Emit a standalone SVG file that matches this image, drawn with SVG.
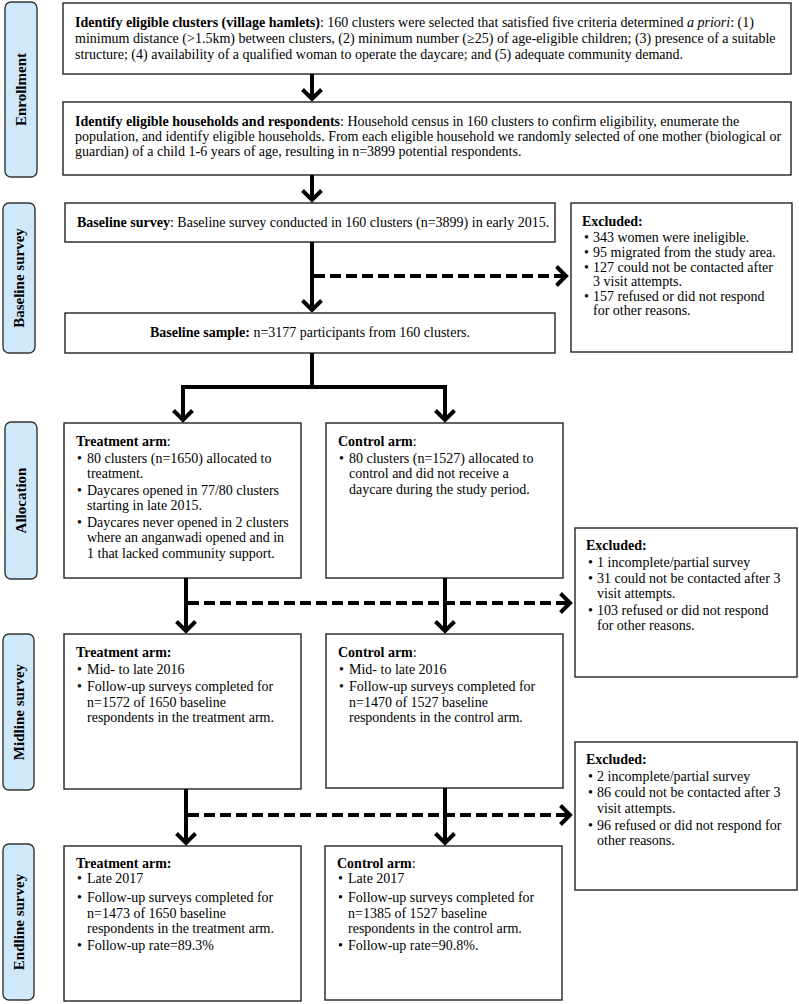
<svg xmlns="http://www.w3.org/2000/svg" width="799" height="1004" viewBox="0 0 799 1004">
<style>
text { font-family: "Liberation Serif", "Times New Roman", serif; font-size: 14px; fill: #000; }
.b { font-weight: bold; }
.i { font-style: italic; }
.box { fill: #fff; stroke: #222; stroke-width: 1.4; }
.lbl { fill: #cfe8fa; stroke: #333; stroke-width: 1.4; }
.lt { font-weight: bold; font-size: 15px; text-anchor: middle; dominant-baseline: central; }
.ln { fill: none; stroke: #000; stroke-width: 4; stroke-linejoin: miter; }
.dash { stroke-dasharray: 11 5; }
</style>
<defs>
<marker id="ah" markerUnits="userSpaceOnUse" viewBox="-14 -14 20 28" markerWidth="20" markerHeight="28" refX="0" refY="0" orient="auto">
<path d="M-9.5,-9.5 L0,0 L-9.5,9.5" fill="none" stroke="#000" stroke-width="4" stroke-linejoin="miter"/>
</marker>
</defs>

<g id="label-enrollment">
<rect class="lbl" x="5" y="2" width="32" height="175" rx="6"/>
<text class="lt" transform="translate(21,89.5) rotate(-90)">Enrollment</text>
</g>
<g id="label-baseline">
<rect class="lbl" x="3" y="203" width="32" height="150" rx="6"/>
<text class="lt" transform="translate(19,278) rotate(-90)">Baseline survey</text>
</g>
<g id="label-allocation">
<rect class="lbl" x="5" y="422" width="32" height="157" rx="6"/>
<text class="lt" transform="translate(21,500.5) rotate(-90)">Allocation</text>
</g>
<g id="label-midline">
<rect class="lbl" x="3" y="634" width="31" height="156" rx="6"/>
<text class="lt" transform="translate(18.5,712) rotate(-90)">Midline survey</text>
</g>
<g id="label-endline">
<rect class="lbl" x="3" y="844" width="31" height="156" rx="6"/>
<text class="lt" transform="translate(18.5,922) rotate(-90)">Endline survey</text>
</g>

<g id="clusters">
<rect class="box" x="63" y="3" width="728" height="71"/>
<text x="75" y="27"><tspan class="b">Identify eligible clusters (village hamlets)</tspan>: 160 clusters were selected that satisfied five criteria determined <tspan class="i">a priori</tspan>: (1)</text>
<text x="75" y="43">minimum distance (&gt;1.5km) between clusters, (2) minimum number (≥25) of age-eligible children; (3) presence of a suitable</text>
<text x="75" y="59">structure; (4) availability of a qualified woman to operate the daycare; and (5) adequate community demand.</text>
</g>

<g id="households">
<rect class="box" x="63" y="102" width="728" height="73"/>
<text x="75" y="126"><tspan class="b">Identify eligible households and respondents</tspan>: Household census in 160 clusters to confirm eligibility, enumerate the</text>
<text x="75" y="141">population, and identify eligible households. From each eligible household we randomly selected of one mother (biological or</text>
<text x="75" y="156">guardian) of a child 1-6 years of age, resulting in n=3899 potential respondents.</text>
</g>

<g id="baseline-survey">
<rect class="box" x="65" y="203" width="490" height="39"/>
<text x="77" y="227"><tspan class="b">Baseline survey</tspan>: Baseline survey conducted in 160 clusters (n=3899) in early 2015.</text>
</g>

<g id="excluded-1">
<rect class="box" x="571" y="203" width="221" height="149"/>
<text class="b" x="582" y="226">Excluded:</text>
<text x="584" y="242">•</text><text x="593" y="242">343 women were ineligible.</text>
<text x="584" y="257">•</text><text x="593" y="257">95 migrated from the study area.</text>
<text x="584" y="272">•</text><text x="593" y="272">127 could not be contacted after</text>
<text x="593" y="286">3 visit attempts.</text>
<text x="584" y="301">•</text><text x="593" y="301">157 refused or did not respond</text>
<text x="593" y="315">for other reasons.</text>
</g>

<g id="baseline-sample">
<rect class="box" x="65" y="313" width="490" height="40"/>
<text x="310" y="337" text-anchor="middle"><tspan class="b">Baseline sample:</tspan> n=3177 participants from 160 clusters.</text>
</g>

<g id="alloc-treatment">
<rect class="box" x="64" y="423" width="237" height="155"/>
<text x="76" y="446"><tspan class="b">Treatment arm</tspan>:</text>
<text x="77" y="463">•</text><text x="87" y="463">80 clusters (n=1650) allocated to</text>
<text x="87" y="478">treatment.</text>
<text x="77" y="495">•</text><text x="87" y="495">Daycares opened in 77/80 clusters</text>
<text x="87" y="510">starting in late 2015.</text>
<text x="77" y="527">•</text><text x="87" y="527">Daycares never opened in 2 clusters</text>
<text x="87" y="542">where an anganwadi opened and in</text>
<text x="87" y="558">1 that lacked community support.</text>
</g>

<g id="alloc-control">
<rect class="box" x="326" y="423" width="237" height="155"/>
<text x="338" y="446"><tspan class="b">Control arm</tspan>:</text>
<text x="339" y="463">•</text><text x="349" y="463">80 clusters (n=1527) allocated to</text>
<text x="349" y="478">control and did not receive a</text>
<text x="349" y="494">daycare during the study period.</text>
</g>

<g id="excluded-2">
<rect class="box" x="575" y="528" width="222" height="149"/>
<text class="b" x="586" y="550">Excluded:</text>
<text x="588" y="567">•</text><text x="597" y="567">1 incomplete/partial survey</text>
<text x="588" y="583">•</text><text x="597" y="583">31 could not be contacted after 3</text>
<text x="597" y="598">visit attempts.</text>
<text x="588" y="615">•</text><text x="597" y="615">103 refused or did not respond</text>
<text x="597" y="630">for other reasons.</text>
</g>

<g id="mid-treatment">
<rect class="box" x="64" y="634" width="237" height="155"/>
<text class="b" x="76" y="657">Treatment arm:</text>
<text x="77" y="674">•</text><text x="87" y="674">Mid- to late 2016</text>
<text x="77" y="691">•</text><text x="87" y="691">Follow-up surveys completed for</text>
<text x="87" y="707">n=1572 of 1650 baseline</text>
<text x="87" y="722">respondents in the treatment arm.</text>
</g>

<g id="mid-control">
<rect class="box" x="326" y="634" width="237" height="154"/>
<text x="338" y="657"><tspan class="b">Control arm</tspan>:</text>
<text x="339" y="674">•</text><text x="349" y="674">Mid- to late 2016</text>
<text x="339" y="691">•</text><text x="349" y="691">Follow-up surveys completed for</text>
<text x="349" y="707">n=1470 of 1527 baseline</text>
<text x="349" y="722">respondents in the control arm.</text>
</g>

<g id="excluded-3">
<rect class="box" x="575" y="742" width="222" height="148"/>
<text class="b" x="586" y="764">Excluded:</text>
<text x="588" y="781">•</text><text x="597" y="781">2 incomplete/partial survey</text>
<text x="588" y="797">•</text><text x="597" y="797">86 could not be contacted after 3</text>
<text x="597" y="813">visit attempts.</text>
<text x="588" y="830">•</text><text x="597" y="830">96 refused or did not respond for</text>
<text x="597" y="845">other reasons.</text>
</g>

<g id="end-treatment">
<rect class="box" x="64" y="846" width="237" height="155"/>
<text class="b" x="76" y="868">Treatment arm:</text>
<text x="77" y="883">•</text><text x="87" y="883">Late 2017</text>
<text x="77" y="902">•</text><text x="87" y="902">Follow-up surveys completed for</text>
<text x="87" y="918">n=1473 of 1650 baseline</text>
<text x="87" y="933">respondents in the treatment arm.</text>
<text x="77" y="950">•</text><text x="87" y="950">Follow-up rate=89.3%</text>
</g>

<g id="end-control">
<rect class="box" x="325" y="846" width="237" height="154"/>
<text x="337" y="868"><tspan class="b">Control arm</tspan>:</text>
<text x="338" y="883">•</text><text x="348" y="883">Late 2017</text>
<text x="338" y="902">•</text><text x="348" y="902">Follow-up surveys completed for</text>
<text x="348" y="918">n=1385 of 1527 baseline</text>
<text x="348" y="933">respondents in the control arm.</text>
<text x="338" y="950">•</text><text x="348" y="950">Follow-up rate=90.8%.</text>
</g>

<g id="connectors">
<path class="ln" d="M312,74 V99" marker-end="url(#ah)"/>
<path class="ln" d="M312,175 V200" marker-end="url(#ah)"/>
<path class="ln" d="M312,242 V310" marker-end="url(#ah)"/>
<path class="ln dash" d="M314,276 H566" marker-end="url(#ah)"/>
<path class="ln" d="M312,353 V387"/>
<path class="ln" d="M312,387 H183 V420" marker-end="url(#ah)"/>
<path class="ln" d="M312,387 H445 V420" marker-end="url(#ah)"/>
<path class="ln" d="M186,578 V631" marker-end="url(#ah)"/>
<path class="ln" d="M445,578 V631" marker-end="url(#ah)"/>
<path class="ln dash" d="M188,603 H570" marker-end="url(#ah)"/>
<path class="ln" d="M186,789 V843" marker-end="url(#ah)"/>
<path class="ln" d="M445,788 V843" marker-end="url(#ah)"/>
<path class="ln dash" d="M188,815 H570" marker-end="url(#ah)"/>
</g>
</svg>
